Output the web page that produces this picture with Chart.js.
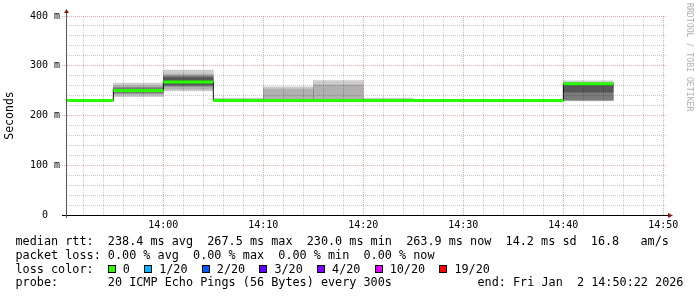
<!DOCTYPE html>
<html>
<head>
<meta charset="utf-8">
<script src="https://cdn.jsdelivr.net/npm/chart.js@4.4.1/dist/chart.umd.min.js"></script>
<style>
  html, body { margin: 0; padding: 0; background: #fff; }
  #wrap { position: relative; width: 697px; height: 297px; overflow: hidden; background: #fff; }
  #c { position: absolute; left: 0; top: 0; }
  .legend { position: absolute; left: 15.5px; font-family: 'DejaVu Sans Mono', monospace; font-size: 11.8px;
            line-height: 13.8px; white-space: pre; color: #000; }
  .box { display: inline-block; width: 6px; height: 6px; border: 1px solid #000; margin-right: 7px; }
  .credit { position: absolute; left: 684.5px; top: 3px; writing-mode: vertical-rl; font-family: 'DejaVu Sans Mono', monospace;
            font-size: 8.2px; line-height: 10px; color: #b0b0b0; white-space: pre; }
</style>
</head>
<body>
<div id="wrap">
  <canvas id="c" width="697" height="297"></canvas>
  <div class="credit">RRDTOOL / TOBI OETIKER</div>
  <div class="legend" style="top:235px">median rtt:  238.4 ms avg  267.5 ms max  230.0 ms min  263.9 ms now  14.2 ms sd  16.8   am/s</div>
  <div class="legend" style="top:248.8px">packet loss: 0.00 % avg  0.00 % max  0.00 % min  0.00 % now</div>
  <div class="legend" id="lossrow" style="top:262.6px"></div>
  <div class="legend" style="top:276.4px">probe:       20 ICMP Echo Pings (56 Bytes) every 300s</div>
  <div class="legend" style="top:276.4px; left:477.5px">end: Fri Jan  2 14:50:22 2026</div>
</div>
<script>
'use strict';

function toSec(hms) {
  const p = hms.split(':').map(Number);
  return p[0] * 3600 + p[1] * 60 + (p[2] || 0);
}

const T0 = toSec('13:50:22');   // graph start
const T1 = toSec('14:50:22');   // graph end

// 5 minute rounds, stamped with their end time (rrd style)
const roundEnds = ['13:55', '14:00', '14:05', '14:10', '14:15', '14:20', '14:25', '14:30', '14:35', '14:40', '14:45'];
const medianMs  = [230, 250.5, 267.5, 230, 230, 230, 230, 230, 230, 230, 263.9];

// smoke (spread of the 20 pings), outer band first, values in ms
const smokeOuterLo = [null, 238,   249.5, 230,  231,   231,   230,  null, null, null, 229.5];
const smokeOuterHi = [null, 265,   291.5, 235,  257.5, 270,   235,  null, null, null, 269.5];
const smokeMidLo   = [null, 242.5, 253,   null, 231,   231,   null, null, null, null, 231];
const smokeMidHi   = [null, 259.5, 283.5, null, 253,   261.5, null, null, null, null, 266];
const smokeCoreLo  = [null, 245,   259,   null, null,  null,  null, null, null, null, 231];
const smokeCoreHi  = [null, 256,   279,   null, null,  null,  null, null, null, null, 264];
const smokeDenseLo = [null, null,  262,   null, null,  null,  null, null, null, null, 247];
const smokeDenseHi = [null, null,  276,   null, null,  null,  null, null, null, null, 263];

const xTickLabels = ['14:00', '14:10', '14:20', '14:30', '14:40', '14:50'];
const yTickValues = [0, 100, 200, 300, 400];
const yTickLabels = ['0  ', '100 m', '200 m', '300 m', '400 m'];

const lossLabels = ['0', '1/20', '2/20', '3/20', '4/20', '10/20', '19/20'];
const lossColors = ['#26ff00', '#00b8ff', '#0059ff', '#5e00ff', '#7e00ff', '#dd00ff', '#ff0000'];

const MAJOR = 'rgba(225, 110, 110, 0.6)';
const MINOR = 'rgba(170, 170, 170, 0.6)';
const MONO = "'DejaVu Sans Mono', monospace";

// loss colour legend row
document.getElementById('lossrow').innerHTML = 'loss color:  ' + lossLabels.map((l, i) =>
  '<span class="box" style="background:' + lossColors[i] + '"></span>' + l).join('  ');

const ends = roundEnds.map(toSec);
const starts = ends.map((e, i) => i === 0 ? T0 : ends[i - 1]);
const xTickSecs = xTickLabels.map(toSec);

const xGrid = [];
for (let t = Math.ceil(T0 / 120) * 120; t <= T1; t += 120) xGrid.push(t);
const yGrid = [];
for (let v = 0; v <= 400; v += 20) yGrid.push(v);

const medianStep = [{ x: T0, y: medianMs[0] }].concat(ends.map((e, i) => ({ x: e, y: medianMs[i] })));
const medianSegs = [];
starts.forEach((s, i) => {
  medianSegs.push({ x: s, y: medianMs[i] }, { x: ends[i], y: medianMs[i] }, { x: ends[i], y: null });
});

function smoke(lo, hi, alpha, order) {
  const data = [];
  lo.forEach((v, i) => { if (v != null) data.push({ x: ends[i] - 150, y: [v, hi[i]] }); });
  return {
    type: 'bar', xAxisID: 'xs', data, order,
    backgroundColor: 'rgba(0,0,0,' + alpha + ')',
    borderWidth: 0, grouped: false, barPercentage: 1, categoryPercentage: 1
  };
}

const axesPlugin = {
  id: 'rrdAxes',
  afterDraw(chart) {
    const { ctx, chartArea: a } = chart;
    ctx.save();
    ctx.lineWidth = 1;
    ctx.strokeStyle = '#000';
    ctx.beginPath();
    ctx.moveTo(a.left - 5, a.bottom + 0.5);
    ctx.lineTo(a.right + 3, a.bottom + 0.5);
    ctx.stroke();
    ctx.strokeStyle = '#555';
    ctx.beginPath();
    ctx.moveTo(a.left - 0.5, a.bottom + 3);
    ctx.lineTo(a.left - 0.5, a.top - 4);
    ctx.stroke();
    ctx.fillStyle = '#8b1a1a';
    ctx.beginPath();
    ctx.moveTo(a.left - 0.5, a.top - 7);
    ctx.lineTo(a.left - 3, a.top - 3);
    ctx.lineTo(a.left + 2, a.top - 3);
    ctx.closePath();
    ctx.fill();
    ctx.beginPath();
    ctx.moveTo(a.right + 6, a.bottom + 0.5);
    ctx.lineTo(a.right + 1, a.bottom - 2);
    ctx.lineTo(a.right + 1, a.bottom + 3);
    ctx.closePath();
    ctx.fill();
    ctx.restore();
  }
};

Chart.defaults.font.family = MONO;
Chart.defaults.color = '#000';

new Chart(document.getElementById('c'), {
  type: 'line',
  data: {
    datasets: [
      { data: medianSegs, borderColor: '#26ff00', borderWidth: 3, borderCapStyle: 'butt', pointRadius: 0, spanGaps: false, order: 0 },
      { data: medianStep, borderColor: '#101010', borderWidth: 1, stepped: 'after', pointRadius: 0, order: 1 },
      smoke(smokeDenseLo, smokeDenseHi, 0.3, 2),
      smoke(smokeCoreLo, smokeCoreHi, 0.3, 3),
      smoke(smokeMidLo, smokeMidHi, 0.14, 4),
      smoke(smokeOuterLo, smokeOuterHi, 0.2, 5)
    ]
  },
  options: {
    responsive: false,
    devicePixelRatio: 1,
    animation: false,
    layout: { padding: { left: 0, top: 16, right: 30, bottom: 62 } },
    plugins: { legend: { display: false }, tooltip: { enabled: false } },
    scales: {
      x: {
        type: 'linear', min: T0, max: T1, offset: false,
        afterBuildTicks: (s) => { s.ticks = xGrid.map(v => ({ value: v })); },
        afterFit: (s) => { s.height = 20; },
        grid: { color: (c) => xTickSecs.includes(c.tick && c.tick.value) ? MAJOR : MINOR, drawTicks: false },
        border: { display: false, dash: [1, 1] },
        ticks: {
          autoSkip: false, maxRotation: 0, padding: 4, font: { size: 10 },
          callback: (v) => { const i = xTickSecs.indexOf(v); return i >= 0 ? xTickLabels[i] : ''; }
        }
      },
      xs: {
        type: 'linear', min: T0, max: T1, offset: false, display: false,
        afterBuildTicks: (s) => { s.ticks = [{ value: T0 }]; }
      },
      y: {
        type: 'linear', min: 0, max: 400,
        afterBuildTicks: (s) => { s.ticks = yGrid.map(v => ({ value: v })); },
        afterFit: (s) => { s.width = 67; },
        grid: {
          color: (c) => yTickValues.includes(c.tick && c.tick.value) ? MAJOR : MINOR,
          tickColor: (c) => yTickValues.includes(c.tick && c.tick.value) ? MAJOR : 'rgba(0,0,0,0)',
          tickBorderDash: [1, 1], tickLength: 5
        },
        border: { display: false, dash: [1, 1] },
        ticks: {
          autoSkip: false, padding: 2, font: { size: 10 },
          callback: (v) => { const i = yTickValues.indexOf(v); return i >= 0 ? yTickLabels[i] : ''; }
        },
        title: { display: true, text: 'Seconds', font: { size: 11.5 }, padding: { top: 3.5, bottom: 0 } }
      }
    }
  },
  plugins: [axesPlugin]
});
</script>
</body>
</html>
